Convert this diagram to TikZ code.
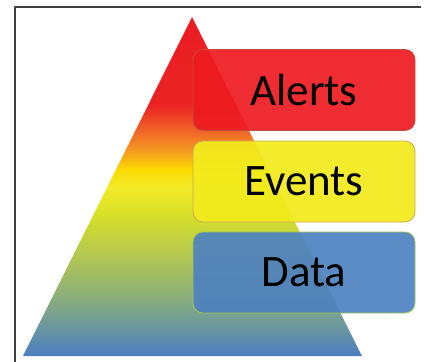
\documentclass[tikz,border=0pt]{standalone}
\usepackage{fontspec}
\setmainfont{Carlito}
\usepackage{tikz}
\definecolor{alertred}{rgb}{0.93,0.11,0.13}
\definecolor{eventyellow}{rgb}{0.95,0.92,0.11}
\definecolor{datablue}{rgb}{0.31,0.51,0.75}
\definecolor{alertline}{rgb}{0.78,0.30,0.25}
\definecolor{eventline}{rgb}{0.80,0.66,0.36}
\definecolor{dataline}{rgb}{0.62,0.78,0.32}
\definecolor{framegray}{rgb}{0.25,0.25,0.25}

% colours of the pyramid, from the base (25bp) up to the tip (75bp)
\pgfdeclareverticalshading{pyramid}{100bp}{%
  color(0bp)=(rgb,255:red,75;green,125;blue,192);
  color(25bp)=(rgb,255:red,75;green,125;blue,192);
  color(29bp)=(rgb,255:red,105;green,150;blue,160);
  color(34bp)=(rgb,255:red,140;green,175;blue,120);
  color(40bp)=(rgb,255:red,180;green,200;blue,80);
  color(46bp)=(rgb,255:red,215;green,225;blue,40);
  color(50bp)=(rgb,255:red,242;green,235;blue,40);
  color(52.5bp)=(rgb,255:red,250;green,218;blue,0);
  color(55bp)=(rgb,255:red,245;green,160;blue,30);
  color(58bp)=(rgb,255:red,240;green,105;blue,40);
  color(62bp)=(rgb,255:red,235;green,35;blue,35);
  color(75bp)=(rgb,255:red,235;green,30;blue,35);
  color(100bp)=(rgb,255:red,235;green,30;blue,35)}

\tikzset{
  level/.style={rounded corners=10pt,line width=0.8pt,fill opacity=0.93,
    text opacity=1,minimum width=222pt,minimum height=81pt,
    font=\fontsize{45}{50}\selectfont,text=black}
}

\begin{document}
\begin{tikzpicture}[line cap=round,line join=round,x=1pt,y=-1pt]
	\useasboundingbox (0,0) rectangle (424,362);
	% frame
	\draw [color=framegray,line width=1.5pt,line cap=butt] (15,362) -- (15,7) -- (421,7);

	% pyramid
	\coordinate (tip) at (192,17);
	\coordinate (baseL) at (23,356);
	\coordinate (baseR) at (362,356);
	\shade [shading=pyramid] (tip) -- (baseR) -- (baseL) -- cycle;

	% levels
	\node [level,draw=alertline,fill=alertred] (alerts) at (304,90) {Alerts};
	\node [level,draw=eventline,fill=eventyellow] (events) at (304,181.5) {Events};
	\node [level,draw=dataline,fill=datablue] (data) at (304,272.5) {Data};
\end{tikzpicture}
\end{document}
